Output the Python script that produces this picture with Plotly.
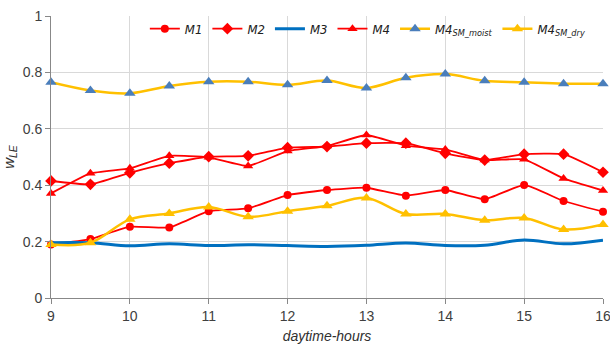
import plotly.graph_objects as go

hours = [9, 9.5, 10, 10.5, 11, 11.5, 12, 12.5, 13, 13.5, 14, 14.5, 15, 15.5, 16]
m1 = [0.190, 0.209, 0.253, 0.250, 0.308, 0.318, 0.365, 0.383, 0.391, 0.363, 0.383, 0.350, 0.401, 0.344, 0.306]
m2 = [0.415, 0.403, 0.444, 0.478, 0.501, 0.504, 0.533, 0.537, 0.549, 0.549, 0.513, 0.489, 0.510, 0.510, 0.446]
m3 = [0.196, 0.196, 0.185, 0.192, 0.186, 0.189, 0.186, 0.183, 0.187, 0.195, 0.186, 0.187, 0.206, 0.192, 0.205]
m4 = [0.371, 0.442, 0.460, 0.504, 0.499, 0.468, 0.521, 0.539, 0.578, 0.540, 0.527, 0.489, 0.492, 0.424, 0.381]
m4_moist = [0.765, 0.736, 0.726, 0.752, 0.767, 0.767, 0.756, 0.771, 0.745, 0.781, 0.794, 0.770, 0.765, 0.760, 0.760]
m4_dry = [0.190, 0.196, 0.279, 0.300, 0.323, 0.288, 0.308, 0.327, 0.355, 0.298, 0.298, 0.276, 0.284, 0.243, 0.261]

x_ticks = [9, 10, 11, 12, 13, 14, 15, 16]
y_ticks = [0, 0.2, 0.4, 0.6, 0.8, 1]
y_tick_labels = ["0", "0.2", "0.4", "0.6", "0.8", "1"]

RED = "#FF0000"
BLUE = "#0070C0"
YELLOW = "#FFC000"
TRI_BLUE = "#4A7EBB"

fig = go.Figure()
fig.add_trace(go.Scatter(x=hours, y=m1, name="M1", mode="lines+markers",
                         line=dict(color=RED, width=1.8, shape="spline", smoothing=0.4),
                         marker=dict(symbol="circle", size=8, color=RED)))
fig.add_trace(go.Scatter(x=hours, y=m2, name="M2", mode="lines+markers",
                         line=dict(color=RED, width=1.8, shape="spline", smoothing=0.4),
                         marker=dict(symbol="diamond", size=9, color=RED)))
fig.add_trace(go.Scatter(x=hours, y=m3, name="M3", mode="lines",
                         line=dict(color=BLUE, width=3, shape="spline", smoothing=1)))
fig.add_trace(go.Scatter(x=hours, y=m4, name="M4", mode="lines+markers",
                         line=dict(color=RED, width=1.8, shape="spline", smoothing=0.4),
                         marker=dict(symbol="triangle-up", size=9, color=RED)))
fig.add_trace(go.Scatter(x=hours, y=m4_moist, name="M4<sub>SM_moist</sub>", mode="lines+markers",
                         line=dict(color=YELLOW, width=2.5, shape="spline", smoothing=1),
                         marker=dict(symbol="triangle-up", size=10, color=TRI_BLUE)))
fig.add_trace(go.Scatter(x=hours, y=m4_dry, name="M4<sub>SM_dry</sub>", mode="lines+markers",
                         line=dict(color=YELLOW, width=2.5, shape="spline", smoothing=1),
                         marker=dict(symbol="triangle-up", size=10, color=YELLOW)))
fig.update_traces(cliponaxis=False)

fig.update_layout(
    width=610, height=346,
    margin=dict(l=51, r=7, t=16, b=48, autoexpand=False),
    paper_bgcolor="white", plot_bgcolor="white",
    font=dict(family="Liberation Sans, Arial, sans-serif", size=14, color="#404040"),
    showlegend=True,
    legend=dict(orientation="h", x=0.17, y=0.955, xanchor="left", yanchor="middle",
                bgcolor="rgba(255,255,255,0)", itemwidth=30, tracegroupgap=0,
                font=dict(size=13, color="#202020", style="italic",
                          family="DejaVu Sans Condensed, Liberation Sans, sans-serif")),
    xaxis=dict(range=[9, 16], tickvals=x_ticks, ticktext=[str(t) for t in x_ticks],
               showgrid=True, gridcolor="#D9D9D9", gridwidth=1,
               showline=True, linecolor="#888888", linewidth=1,
               ticks="outside", ticklen=5, tickcolor="#888888",
               zeroline=False, automargin=False, ticklabeloverflow="allow",
               title=dict(text="<i>daytime-hours</i>", font=dict(size=14, color="#303030"), standoff=8)),
    yaxis=dict(range=[0, 1], tickvals=y_ticks, ticktext=y_tick_labels,
               showgrid=True, gridcolor="#D9D9D9", gridwidth=1,
               showline=True, linecolor="#888888", linewidth=1,
               ticks="outside", ticklen=5, tickcolor="#888888",
               zeroline=False, automargin=False,
               title=dict(text="<i>w<sub>LE</sub></i>", font=dict(size=15, color="#303030"), standoff=10)),
)

fig.write_html("out.html", config={"displayModeBar": False},
               post_script="document.body.style.margin='0';document.body.style.overflow='hidden';")
